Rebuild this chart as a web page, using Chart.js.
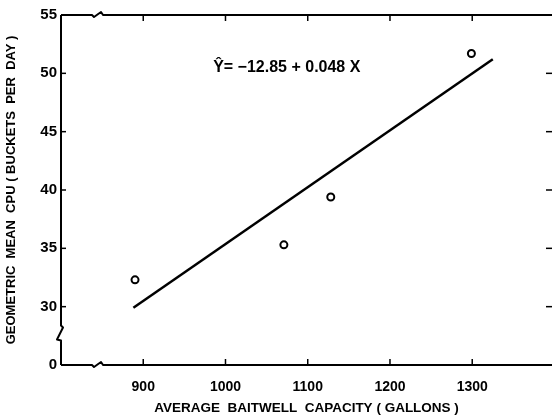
<!DOCTYPE html>
<html><head><meta charset="utf-8">
<script src="https://cdn.jsdelivr.net/npm/chart.js@4/dist/chart.umd.min.js"></script>
<style>html,body{margin:0;padding:0;background:#fff}#wrap{width:553px;height:417px}</style>
</head><body><div id="wrap"><canvas id="c"></canvas></div>
<script>
// observed points
const baitwellCapacity = [890, 1071, 1128, 1299];
const meanCPU = [32.3, 35.3, 39.4, 51.7];
// fitted regression line endpoints
const fitX = [888, 1325];
const fitY = [29.9, 51.2];
// ticks (y axis is broken: the lowest tick position is labelled 0)
const xTickValues = [900, 1000, 1100, 1200, 1300];
const xTickLabels = ['900', '1000', '1100', '1200', '1300'];
const yTickValues = [25, 30, 35, 40, 45, 50, 55];
const yTickLabels = ['0', '30', '35', '40', '45', '50', '55'];
const equationText = 'Ŷ= −12.85 + 0.048 X';
const xTitle = 'AVERAGE  BAITWELL  CAPACITY ( GALLONS )';
const yTitle = 'GEOMETRIC  MEAN  CPU ( BUCKETS  PER  DAY )';

const frame = {
  id: 'frame',
  afterDraw(chart) {
    const ctx = chart.ctx, a = chart.chartArea;
    const xs = chart.scales.x, ys = chart.scales.y;
    ctx.save();
    ctx.strokeStyle = '#000';
    ctx.lineWidth = 2;
    ctx.lineJoin = 'round';
    const bx = xs.getPixelForValue(845);
    const drawH = (y) => {
      ctx.beginPath();
      ctx.moveTo(a.left, y); ctx.lineTo(bx - 6, y);
      ctx.lineTo(bx - 4, y + 2); ctx.lineTo(bx + 3, y - 3); ctx.lineTo(bx + 5, y);
      ctx.lineTo(a.right, y);
      ctx.stroke();
    };
    drawH(a.bottom);
    drawH(a.top);
    const by = ys.getPixelForValue(27.7);
    ctx.beginPath();
    ctx.moveTo(a.left, a.top); ctx.lineTo(a.left, by - 8);
    ctx.lineTo(a.left + 2, by - 6); ctx.lineTo(a.left - 4, by + 6); ctx.lineTo(a.left, by + 7);
    ctx.lineTo(a.left, a.bottom);
    ctx.stroke();
    ctx.lineWidth = 1.5;
    xTickValues.forEach(v => {
      const px = xs.getPixelForValue(v);
      ctx.beginPath(); ctx.moveTo(px, a.bottom); ctx.lineTo(px, a.bottom - 6); ctx.stroke();
      ctx.beginPath(); ctx.moveTo(px, a.top); ctx.lineTo(px, a.top + 6); ctx.stroke();
    });
    yTickValues.forEach(v => {
      const py = ys.getPixelForValue(v);
      ctx.beginPath(); ctx.moveTo(a.left, py); ctx.lineTo(a.left + 5, py); ctx.stroke();
      if (v > 25 && v < 55) { ctx.beginPath(); ctx.moveTo(a.right, py); ctx.lineTo(a.right - 6, py); ctx.stroke(); }
    });
    ctx.fillStyle = '#000';
    ctx.font = 'bold 16px "Liberation Sans", Arial, sans-serif';
    ctx.textBaseline = 'middle';
    ctx.fillText(equationText, xs.getPixelForValue(985), ys.getPixelForValue(50.5));
    ctx.restore();
  }
};

new Chart(document.getElementById('c'), {
  type: 'scatter',
  data: {
    datasets: [
      {
        type: 'line',
        data: fitX.map((x, i) => ({ x, y: fitY[i] })),
        borderColor: '#000', borderWidth: 2.5, pointRadius: 0, fill: false
      },
      {
        data: baitwellCapacity.map((x, i) => ({ x, y: meanCPU[i] })),
        pointRadius: 3.5, pointBorderWidth: 2, pointBorderColor: '#000', pointBackgroundColor: '#fff'
      }
    ]
  },
  options: {
    responsive: true, maintainAspectRatio: false, animation: false,
    layout: { autoPadding: false, padding: { top: 15, right: 1, left: 0, bottom: 0 } },
    plugins: { legend: { display: false }, tooltip: { enabled: false } },
    scales: {
      x: {
        type: 'linear', min: 800, max: 1397,
        afterBuildTicks: s => { s.ticks = xTickValues.map(v => ({ value: v })); },
        afterFit: s => { s.height = 52; s.paddingLeft = 0; s.paddingRight = 0; },
        grid: { display: false, drawTicks: false }, border: { display: false },
        ticks: { padding: 14, color: '#000', font: { family: '"Liberation Sans", Arial, sans-serif', size: 14, weight: 'bold' },
          callback: (v) => xTickLabels[xTickValues.indexOf(v)] },
        title: { display: true, text: xTitle, color: '#000', padding: { top: 10, bottom: 1 },
          font: { family: '"Liberation Sans", Arial, sans-serif', size: 13.5, weight: 'bold' } }
      },
      y: {
        type: 'linear', min: 25, max: 55,
        afterBuildTicks: s => { s.ticks = yTickValues.map(v => ({ value: v })); },
        afterFit: s => { s.width = 61; },
        grid: { display: false, drawTicks: false }, border: { display: false },
        ticks: { padding: 4, color: '#000', font: { family: '"Liberation Sans", Arial, sans-serif', size: 15, weight: 'bold' },
          callback: (v) => yTickLabels[yTickValues.indexOf(v)] },
        title: { display: true, text: yTitle, color: '#000', padding: { bottom: 4 },
          font: { family: '"Liberation Sans", Arial, sans-serif', size: 13, weight: 'bold' } }
      }
    }
  },
  plugins: [frame]
});
</script></body></html>
